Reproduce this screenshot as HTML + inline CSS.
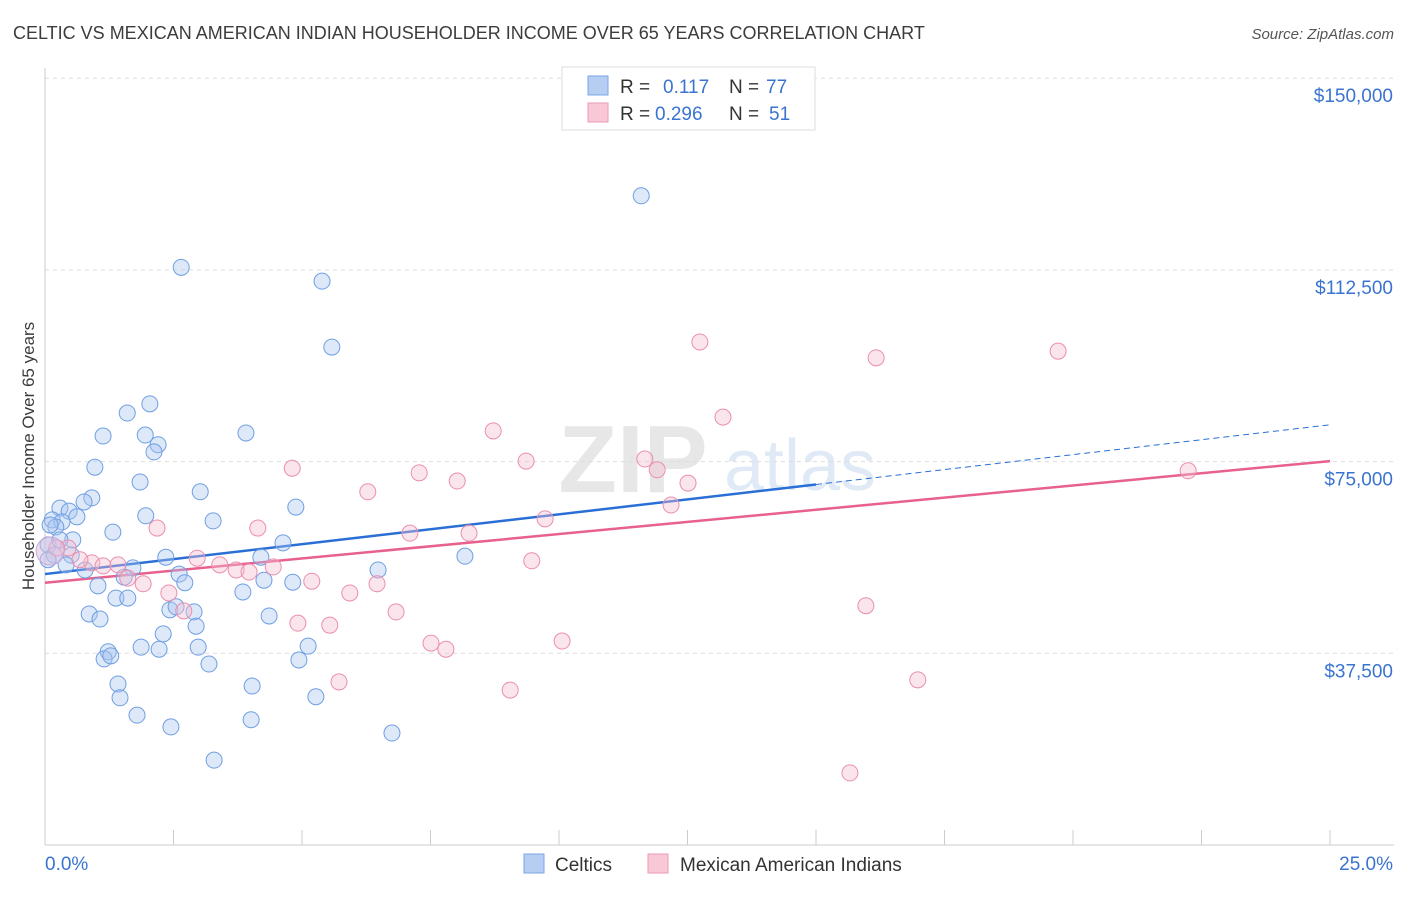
<!DOCTYPE html>
<html><head><meta charset="utf-8">
<style>
body{margin:0;background:#fff;font-family:"Liberation Sans",sans-serif;}
svg text{font-family:"Liberation Sans",sans-serif;}
</style></head>
<body>
<svg id="chart" width="1406" height="892" viewBox="0 0 1406 892" xmlns="http://www.w3.org/2000/svg">
<text x="13" y="39" font-size="18" fill="#3c3c3c">CELTIC VS MEXICAN AMERICAN INDIAN HOUSEHOLDER INCOME OVER 65 YEARS CORRELATION CHART</text>
<text x="1394" y="39" font-size="15" fill="#555" text-anchor="end" font-style="italic">Source: ZipAtlas.com</text>
<text transform="translate(34,456) rotate(-90)" font-size="17" fill="#3c3c3c" text-anchor="middle">Householder Income Over 65 years</text>
<g id="watermark" opacity="0.35">
<text x="633" y="492" font-size="96" font-family="Liberation Serif" fill="#bbb" text-anchor="middle" font-weight="bold">ZIP</text>
<text x="800" y="490" font-size="72" fill="#a8c4e8" text-anchor="middle">atlas</text>
</g>
<g id="grid"></g>
<g id="axes"></g>
<g id="trends"></g>
<g id="points"></g>
<g id="legend-top">
<rect x="562" y="67" width="253" height="63" fill="#fff" stroke="#ddd"/>
<rect x="588" y="76" width="20" height="19" fill="#b5cef2" stroke="#7aa6e6"/>
<rect x="588" y="103" width="20" height="19" fill="#f8c8d6" stroke="#ec9ab3"/>
<text x="620" y="93" font-size="19" fill="#333">R = </text><text x="663" y="93" font-size="19" fill="#3a74d0">0.117</text>
<text x="729" y="93" font-size="19" fill="#333">N = </text><text x="766" y="93" font-size="19" fill="#3a74d0">77</text>
<text x="620" y="120" font-size="19" fill="#333">R = </text><text x="655" y="120" font-size="19" fill="#3a74d0">0.296</text>
<text x="729" y="120" font-size="19" fill="#333">N = </text><text x="769" y="120" font-size="19" fill="#3a74d0">51</text>
</g>
<g>
<rect x="524" y="854" width="20" height="19" fill="#b5cef2" stroke="#7aa6e6"/>
<text x="555" y="871" font-size="19" fill="#333">Celtics</text>
<rect x="648" y="854" width="20" height="19" fill="#f8c8d6" stroke="#ec9ab3"/>
<text x="680" y="871" font-size="19" fill="#333">Mexican American Indians</text>
</g>
</svg>
<script>
const blueX=[11.60,2.65,5.39,5.58,2.04,1.60,1.13,1.95,2.20,2.12,3.91,0.97,1.85,0.91,3.02,0.76,0.29,0.47,0.62,0.14,0.33,0.21,1.96,3.27,4.88,1.32,0.54,0.06,0.18,2.35,4.20,4.63,8.17,0.51,0.78,1.71,1.54,2.61,2.72,4.26,4.82,6.48,1.03,1.38,1.61,3.85,2.43,2.55,2.90,0.86,1.07,2.94,4.36,2.30,1.87,2.22,2.98,5.12,1.23,1.15,1.28,3.19,4.94,1.42,4.03,1.46,5.27,1.79,4.01,2.45,6.75,3.29,0.06,0.29,0.41,0.10];
const blueY=[127.0,113.0,110.3,97.4,86.3,84.5,80.0,80.2,78.3,76.9,80.6,73.9,71.0,67.9,69.1,67.1,65.9,65.3,64.2,63.6,63.2,62.2,64.4,63.4,66.1,61.2,59.7,58.7,56.7,56.3,56.3,59.1,56.5,56.7,53.8,54.2,52.4,53.0,51.3,51.8,51.4,53.8,50.7,48.3,48.3,49.5,46.0,46.6,45.6,45.2,44.2,42.8,44.8,41.3,38.7,38.3,38.7,38.9,37.8,36.4,37.0,35.4,36.2,31.5,31.1,28.8,29.0,25.4,24.5,23.1,21.9,16.6,55.8,59.7,54.8,62.6];
const pinkX=[12.74,16.17,19.71,13.19,8.72,9.36,11.67,11.91,4.81,7.28,8.02,12.51,22.24,6.28,12.18,9.73,2.18,4.14,7.10,8.25,0.45,0.23,0.91,1.13,1.42,2.96,3.40,3.72,4.44,9.47,3.97,1.61,1.91,5.19,6.46,2.41,5.93,2.70,6.83,15.97,4.92,5.54,7.51,7.80,10.06,5.72,9.05,16.98,15.66,0.68];
const pinkY=[98.4,95.3,96.6,83.7,81.0,75.1,75.5,73.4,73.7,72.8,71.2,70.8,73.2,69.1,66.5,63.8,62.0,62.0,61.0,61.0,58.1,58.1,55.2,54.6,54.8,56.1,54.8,53.8,54.4,55.6,53.4,52.2,51.1,51.6,51.1,49.3,49.3,45.8,45.6,46.8,43.4,43.0,39.5,38.3,39.9,31.9,30.3,32.3,14.1,55.8];
const blueTrend=[53.0,82.2];
const pinkTrend=[51.3,75.1];
const yTicks=[37500,75000,112500,150000];
const yTickLabels=["$37,500","$75,000","$112,500","$150,000"];
const xTickCount=10;

const NS="http://www.w3.org/2000/svg";
const X0=45,X1=1330,YB=845,PXK=191.7/37.5;
const sx=v=>X0+(v/25)*(X1-X0);
const sy=k=>YB-k*PXK;
function mk(tag,attrs,parent){const e=document.createElementNS(NS,tag);for(const k in attrs)e.setAttribute(k,attrs[k]);parent.appendChild(e);return e;}
const grid=document.getElementById('grid'),axes=document.getElementById('axes'),trends=document.getElementById('trends'),pts=document.getElementById('points');
yTicks.forEach((t,i)=>{
  const y=sy(t/1000);
  const l=mk('line',{x1:X0,x2:1394,y1:y,y2:y,stroke:'#ddd','stroke-dasharray':'4,4'},grid);
  
  
  const tx=mk('text',{x:1393,y:y+24,'font-size':19,fill:'#3a74d0','text-anchor':'end'},axes);
  tx.textContent=yTickLabels[i];
  
  
});
const ax=mk('line',{x1:X0,x2:X0,y1:68,y2:YB,stroke:'#ccc'},axes);


const bx=mk('line',{x1:X0,x2:1394,y1:YB,y2:YB,stroke:'#ccc'},axes);


for(let i=0;i<=xTickCount;i++){
  const x=sx(25*i/xTickCount);
  const t=mk('line',{x1:x,x2:x,y1:830,y2:YB,stroke:'#ccc'},axes);
  
  
}
const xl=mk('text',{x:45,y:870,'font-size':19,fill:'#3a74d0'},axes);xl.textContent='0.0%';


const xr=mk('text',{x:1393,y:870,'font-size':19,fill:'#3a74d0','text-anchor':'end'},axes);xr.textContent='25.0%';



function drawPts(xs,ys,fill,stroke,name){
  xs.forEach((v,i)=>{
    const c=mk('circle',{cx:sx(v),cy:sy(ys[i]),r:8,fill:fill,'fill-opacity':0.4,stroke:stroke,'stroke-width':1},pts);
    
    
  });
}
drawPts(blueX,blueY,'#a9c6ef','#6f9fe2','celtics-point');
drawPts(pinkX,pinkY,'#f6bfd0','#ea8fae','mexican-point');
const big=mk('circle',{cx:sx(0.1),cy:sy(57.5),r:14,fill:'#d8c0e0','fill-opacity':0.5,stroke:'#c9a8d6'},pts);



const tAt=(tr,x)=>tr[0]+(tr[1]-tr[0])*x/25;
const bs=mk('line',{x1:sx(0),y1:sy(tAt(blueTrend,0)),x2:sx(15),y2:sy(tAt(blueTrend,15)),stroke:'#2a6fd6','stroke-width':2.5},trends);


const bd=mk('line',{x1:sx(15),y1:sy(tAt(blueTrend,15)),x2:sx(25),y2:sy(tAt(blueTrend,25)),stroke:'#2a6fd6','stroke-width':1,'stroke-dasharray':'6,4'},trends);


const ps=mk('line',{x1:sx(0),y1:sy(tAt(pinkTrend,0)),x2:sx(25),y2:sy(tAt(pinkTrend,25)),stroke:'#e8608e','stroke-width':2.5},trends);


</script>
</body></html>
